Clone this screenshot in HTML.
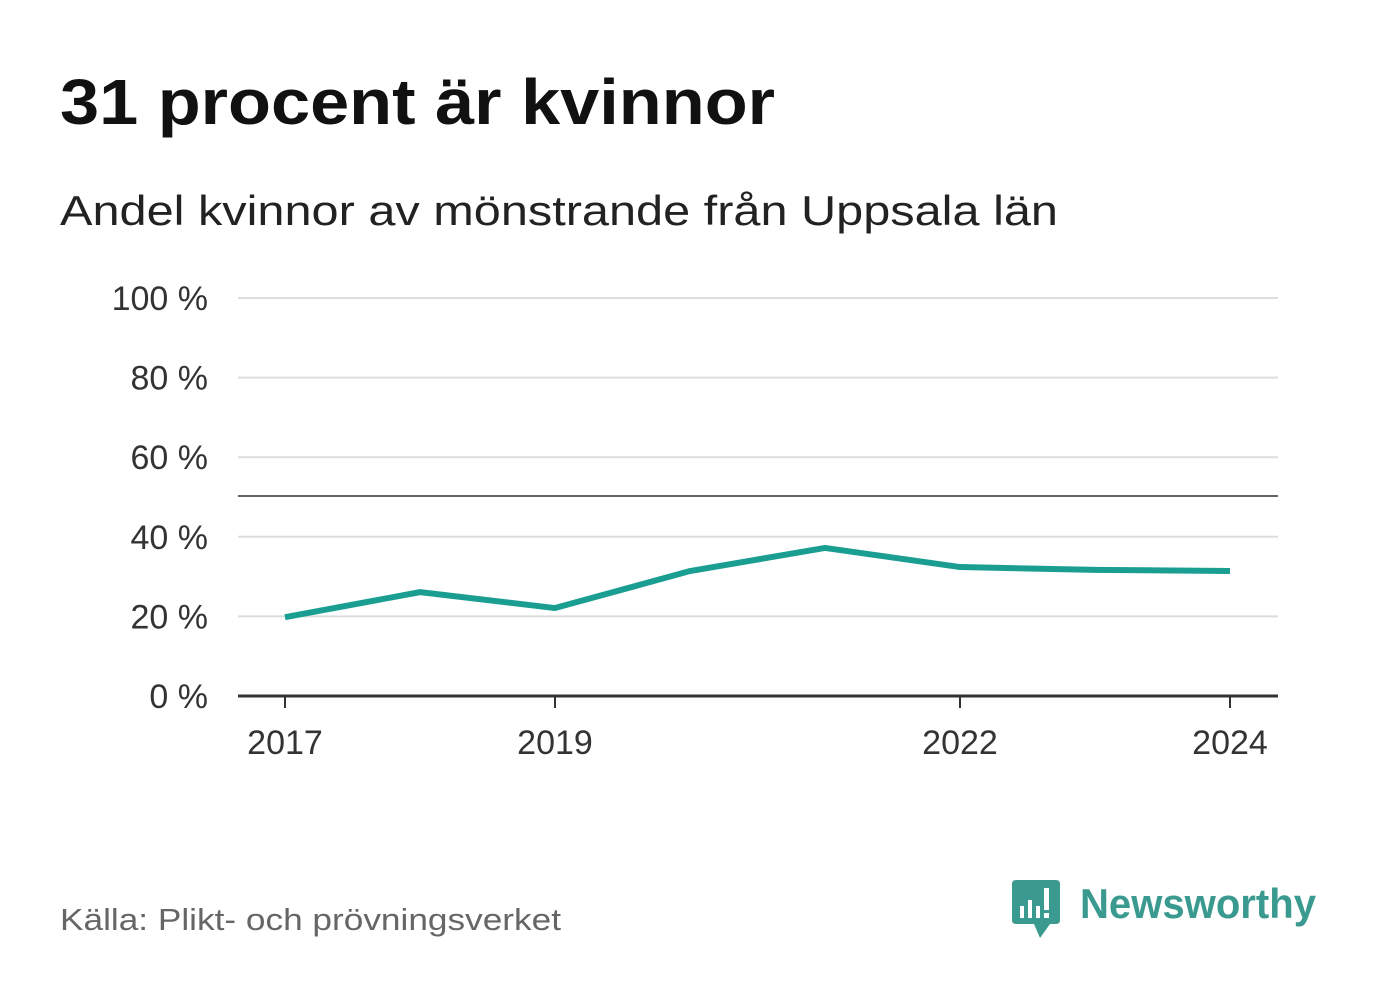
<!DOCTYPE html>
<html><head><meta charset="utf-8"><style>
body{margin:0;background:#fff;width:1382px;height:999px;overflow:hidden;font-family:"Liberation Sans","DejaVu Sans",sans-serif}
</style></head><body>
<svg width="1382" height="999">
<text x="60" y="124" font-size="64" font-weight="bold" fill="#111" textLength="715" lengthAdjust="spacingAndGlyphs">31 procent är kvinnor</text>
<text x="60" y="225" font-size="42" fill="#222" textLength="998" lengthAdjust="spacingAndGlyphs">Andel kvinnor av mönstrande från Uppsala län</text>
<g id="grid"></g>
<g id="yt"></g>
<g id="xt"></g>
<line x1="238" x2="1278" y1="496" y2="496" stroke="#666" stroke-width="2"/>
<line x1="238" x2="1278" y1="696" y2="696" stroke="#333" stroke-width="3"/>
<path id="line" fill="none" stroke="#1a9e92" stroke-width="6" stroke-linejoin="round"/>
<text x="60" y="930" font-size="31" fill="#666" textLength="501" lengthAdjust="spacingAndGlyphs">Källa: Plikt- och prövningsverket</text>
<g>
<path d="M1016 880 H1056 Q1060 880 1060 884 V920 Q1060 924 1056 924 H1050 L1040 938 L1034 924 H1016 Q1012 924 1012 920 V884 Q1012 880 1016 880Z" fill="#3a9a8f"/>
<rect x="1020" y="906" width="4" height="12" fill="#fff"/><rect x="1028" y="900" width="4" height="18" fill="#fff"/><rect x="1036" y="906" width="4" height="12" fill="#fff"/><rect x="1044" y="888" width="5" height="22" fill="#fff"/><rect x="1044" y="913" width="5" height="5" fill="#fff"/>
<text x="1080" y="918" font-size="42" font-weight="bold" fill="#3a9a8f" textLength="236" lengthAdjust="spacingAndGlyphs">Newsworthy</text>
</g>
</svg>
<script>
const years=[2017,2018,2019,2020,2021,2022,2023,2024];
const values=[19.8,26.1,22.1,31.4,37.2,32.4,31.7,31.4];
const yTicks=[0,20,40,60,80,100];
const xTicks=[2017,2019,2022,2024];
const X=y=>285+(y-2017)*(1230-285)/7;
const Y=v=>696-v*3.98;
const ns="http://www.w3.org/2000/svg";
const g=document.getElementById('grid'),yt=document.getElementById('yt'),xt=document.getElementById('xt');
yTicks.forEach(t=>{
 if(t>0){const l=document.createElementNS(ns,'line');
 l.setAttribute('x1',238);l.setAttribute('x2',1278);l.setAttribute('y1',Y(t));l.setAttribute('y2',Y(t));
 l.setAttribute('stroke','#ddd');l.setAttribute('stroke-width',2);
 
 
 g.appendChild(l);}
 const tx=document.createElementNS(ns,'text');
 tx.setAttribute('x',208);tx.setAttribute('y',Y(t)+12);tx.setAttribute('text-anchor','end');
 tx.setAttribute('font-size',34);tx.setAttribute('fill','#333');tx.textContent=t+' %';
 
 
 yt.appendChild(tx);
});
xTicks.forEach(t=>{
 const l=document.createElementNS(ns,'line');
 l.setAttribute('x1',X(t));l.setAttribute('x2',X(t));l.setAttribute('y1',696);l.setAttribute('y2',708);
 l.setAttribute('stroke','#333');l.setAttribute('stroke-width',2);
 
 
 xt.appendChild(l);
 const tx=document.createElementNS(ns,'text');
 tx.setAttribute('x',X(t));tx.setAttribute('y',754);tx.setAttribute('text-anchor','middle');
 tx.setAttribute('font-size',34);tx.setAttribute('fill','#333');tx.textContent=t;
 
 
 xt.appendChild(tx);
});
document.getElementById('line').setAttribute('d',years.map((y,i)=>(i?'L':'M')+X(y)+' '+Y(values[i])).join(' '));
</script>
</body></html>
